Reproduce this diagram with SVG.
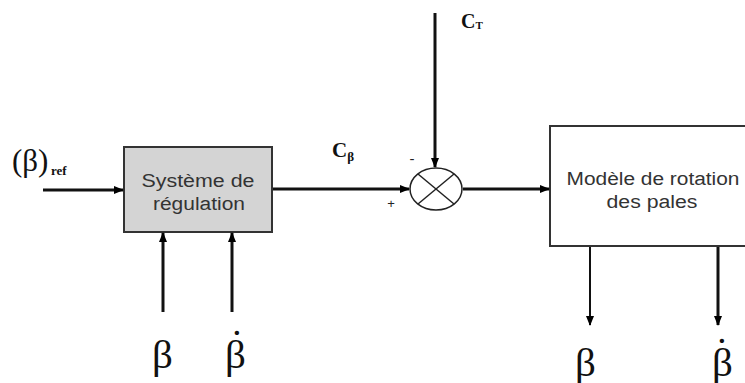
<svg xmlns="http://www.w3.org/2000/svg" width="745" height="383" viewBox="0 0 745 383">
<defs>
<marker id="ah" markerWidth="10" markerHeight="10" refX="9" refY="5" orient="auto" markerUnits="userSpaceOnUse">
<path d="M0,1 L10,5 L0,9 Z" fill="#000"/>
</marker>
<style>
.ln{stroke:#111;stroke-width:3;fill:none}
.box{stroke:#333;stroke-width:2}
.sans{font-family:"Liberation Sans",Arial,sans-serif;font-size:18px;fill:#333;text-anchor:middle}
.greek{font-family:"Liberation Serif","Times New Roman",serif;font-size:41px;fill:#111}
.lbl{font-family:"Liberation Serif","Times New Roman",serif;font-weight:bold;fill:#111}
</style>
</defs>
<rect width="745" height="383" fill="#fff"/>
<g id="regulation">
<rect class="box" x="124" y="147" width="148" height="85" fill="#d4d4d4"/>
<text class="sans" x="198" y="187" textLength="113" lengthAdjust="spacingAndGlyphs">Système de</text>
<text class="sans" x="199" y="210" textLength="92" lengthAdjust="spacingAndGlyphs">régulation</text>
</g>
<g id="sum">
<ellipse cx="436" cy="189" rx="26" ry="21" fill="#fff" stroke="#222" stroke-width="1.5"/>
<line x1="418" y1="174" x2="454" y2="204" stroke="#222" stroke-width="1.5"/>
<line x1="418" y1="204" x2="454" y2="174" stroke="#222" stroke-width="1.5"/>
<text class="sans" x="412" y="164" style="fill:#222;font-size:15px">-</text>
<text class="sans" x="391" y="208" style="font-size:13px;fill:#222">+</text>
</g>
<g id="model">
<rect class="box" x="550" y="126" width="200" height="120" fill="#fff"/>
<text class="sans" x="653" y="185" textLength="173" lengthAdjust="spacingAndGlyphs">Modèle de rotation</text>
<text class="sans" x="652" y="208" textLength="91" lengthAdjust="spacingAndGlyphs">des pales</text>
</g>
<g id="labels">
<text x="12" y="171" class="lbl" style="font-weight:normal;font-size:31px">(β)</text>
<text x="51" y="175" class="lbl" style="font-size:13px">ref</text>
<text x="332" y="157" class="lbl" style="font-size:21px">C<tspan font-size="13" dy="4">β</tspan></text>
<text x="461" y="28" class="lbl" style="font-size:20px">C<tspan font-size="11" dy="1">T</tspan></text>
<text class="greek" x="152" y="368">β</text>
<text class="greek" x="225" y="368">β<tspan x="230" y="357">˙</tspan></text>
<text class="greek" x="575" y="376">β</text>
<text class="greek" x="712" y="376">β<tspan x="715" y="365">˙</tspan></text>
</g>
<g id="connectors">
<line class="ln" x1="43" y1="190" x2="123" y2="190" marker-end="url(#ah)"/>
<line class="ln" x1="273" y1="189" x2="409" y2="189" marker-end="url(#ah)"/>
<line class="ln" x1="435" y1="13" x2="435" y2="167" marker-end="url(#ah)"/>
<line class="ln" x1="463" y1="189" x2="549" y2="189" marker-end="url(#ah)"/>
<line class="ln" x1="163" y1="312" x2="163" y2="233" marker-end="url(#ah)"/>
<line class="ln" x1="232" y1="312" x2="232" y2="233" marker-end="url(#ah)"/>
<line class="ln" x1="590" y1="247" x2="590" y2="325" marker-end="url(#ah)" style="stroke-width:2"/>
<line class="ln" x1="718" y1="247" x2="718" y2="325" marker-end="url(#ah)"/>
</g>
</svg>
